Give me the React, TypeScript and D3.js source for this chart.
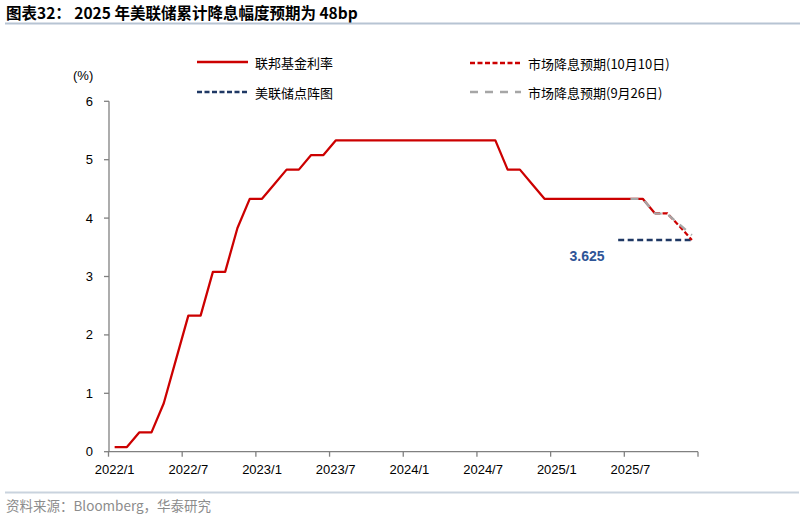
import React from 'react';
import * as d3 from 'd3';

// months on the category axis, 2022/1 .. 2025/12
const months = d3.timeMonths(new Date(2022, 0, 1), new Date(2026, 0, 1));
const tickLabels = ['2022/1', '2022/7', '2023/1', '2023/7', '2024/1', '2024/7', '2025/1', '2025/7'];
const yTicks = [0, 1, 2, 3, 4, 5, 6];

// month-end effective fed funds rate, 2022/1 .. 2025/9
const fedFunds = [
  0.08, 0.08, 0.33, 0.33, 0.83, 1.58, 2.33, 2.33, 3.08, 3.08, 3.83, 4.33,
  4.33, 4.58, 4.83, 4.83, 5.08, 5.08, 5.33, 5.33, 5.33, 5.33, 5.33, 5.33,
  5.33, 5.33, 5.33, 5.33, 5.33, 5.33, 5.33, 5.33, 4.83, 4.83, 4.58, 4.33,
  4.33, 4.33, 4.33, 4.33, 4.33, 4.33, 4.33, 4.33, 4.08,
];
// market pricing on 10/10, 2025/9 .. 2025/12
const market1010 = [4.08, 4.08, 3.86, 3.625];
const market1010Start = 44;
// market pricing on 9/26, 2025/7 .. 2025/12
const market0926 = [4.33, 4.33, 4.08, 4.07, 3.89, 3.71];
const market0926Start = 42;
// dot plot median, 2025/6 .. 2025/12
const dotPlot = [3.625, 3.625, 3.625, 3.625, 3.625, 3.625, 3.625];
const dotPlotStart = 41;

const RED = '#CC0000';
const NAVY = '#1F3864';
const GRAY = '#A6A6A6';
const AXIS = '#808080';
const FONT = 'Arial, "Liberation Sans", "Noto Sans CJK SC", sans-serif';
const CJK = '"Noto Sans CJK SC", sans-serif';

export default function App() {
  const x = d3.scaleBand<number>()
    .domain(months.map((_, i) => i))
    .range([108.5, 698])
    .paddingInner(0)
    .paddingOuter(0);
  const y = d3.scaleLinear().domain([0, 6]).range([451.7, 101.3]);
  const cx = (i: number) => (x(i) as number) + x.bandwidth() / 2;

  const line = (start: number) =>
    d3.line<number>()
      .x((_, i) => cx(start + i))
      .y(d => y(d));

  const tickIdx = d3.range(0, months.length + 1, 6);
  const tickX = (i: number) => (i < months.length ? (x(i) as number) : x.range()[1]);

  return (
    <svg width={805} height={518} style={{ position: 'absolute', left: 0, top: 0, background: '#fff' }}>
      {/* title */}
      <text x={6} y={19} fontFamily={CJK} fontWeight="bold" fontSize={15.5} fill="#000">
        图表32：  2025 年美联储累计降息幅度预期为 48bp
      </text>
      <line x1={5} x2={800} y1={23.5} y2={23.5} stroke="#B7C4D3" strokeWidth={2} />

      {/* legend */}
      <g fontFamily={CJK} fontSize={13} fill="#000">
        <line x1={197} x2={248} y1={62} y2={62} stroke={RED} strokeWidth={2.5} />
        <text x={255} y={62} dominantBaseline="central">联邦基金利率</text>
        <line x1={470} x2={521} y1={63} y2={63} stroke={RED} strokeWidth={2.5} strokeDasharray="5,2.5" />
        <text x={528} y={63} dominantBaseline="central">市场降息预期(10月10日)</text>
        <line x1={197} x2={248} y1={92} y2={92} stroke={NAVY} strokeWidth={2.5} strokeDasharray="5,2.5" />
        <text x={255} y={92} dominantBaseline="central">美联储点阵图</text>
        <line x1={470} x2={521} y1={92} y2={92} stroke={GRAY} strokeWidth={2.5} strokeDasharray="8,7" />
        <text x={528} y={92} dominantBaseline="central">市场降息预期(9月26日)</text>
      </g>

      {/* y axis */}
      <text x={73} y={75} fontFamily={FONT} fontSize={13} dominantBaseline="central">(%)</text>
      <line x1={109} x2={109} y1={y(6)} y2={y(0)} stroke={AXIS} strokeWidth={1.3} />
      {yTicks.map(t => (
        <g key={t}>
          <line x1={104} x2={109} y1={y(t)} y2={y(t)} stroke={AXIS} strokeWidth={1.3} />
          <text x={93} y={y(t)} textAnchor="end" dominantBaseline="central" fontFamily={FONT} fontSize={13}>
            {t}
          </text>
        </g>
      ))}

      {/* x axis */}
      <line x1={x.range()[0]} x2={x.range()[1]} y1={y(0)} y2={y(0)} stroke={AXIS} strokeWidth={1.3} />
      {tickIdx.map(i => (
        <line key={i} x1={tickX(i)} x2={tickX(i)} y1={y(0)} y2={y(0) + 5} stroke={AXIS} strokeWidth={1.3} />
      ))}
      {tickLabels.map((lab, k) => (
        <text key={lab} x={cx(k * 6)} y={474} textAnchor="middle" fontFamily={FONT} fontSize={13}>
          {lab}
        </text>
      ))}

      {/* series */}
      <path d={line(0)(fedFunds) || ''} fill="none" stroke={RED} strokeWidth={2.25} strokeLinejoin="round" />
      <path d={line(dotPlotStart)(dotPlot) || ''} fill="none" stroke={NAVY} strokeWidth={2.5} strokeDasharray="6,3.5" />
      <path d={line(market1010Start)(market1010) || ''} fill="none" stroke={RED} strokeWidth={2.25} strokeDasharray="5,2.5" />
      <path d={line(market0926Start)(market0926) || ''} fill="none" stroke={GRAY} strokeWidth={2.25} strokeDasharray="8,7" />

      <text x={587} y={261} textAnchor="middle" fontFamily={FONT} fontWeight="bold" fontSize={14} fill="#2F5597">
        3.625
      </text>

      {/* footer */}
      <line x1={5} x2={799} y1={492.5} y2={492.5} stroke="#C9D3DE" strokeWidth={2} />
      <text x={6} y={505} dominantBaseline="central" fontFamily={CJK} fontSize={13.5} fill="#8C8C8C">
        资料来源：Bloomberg，华泰研究
      </text>
    </svg>
  );
}
